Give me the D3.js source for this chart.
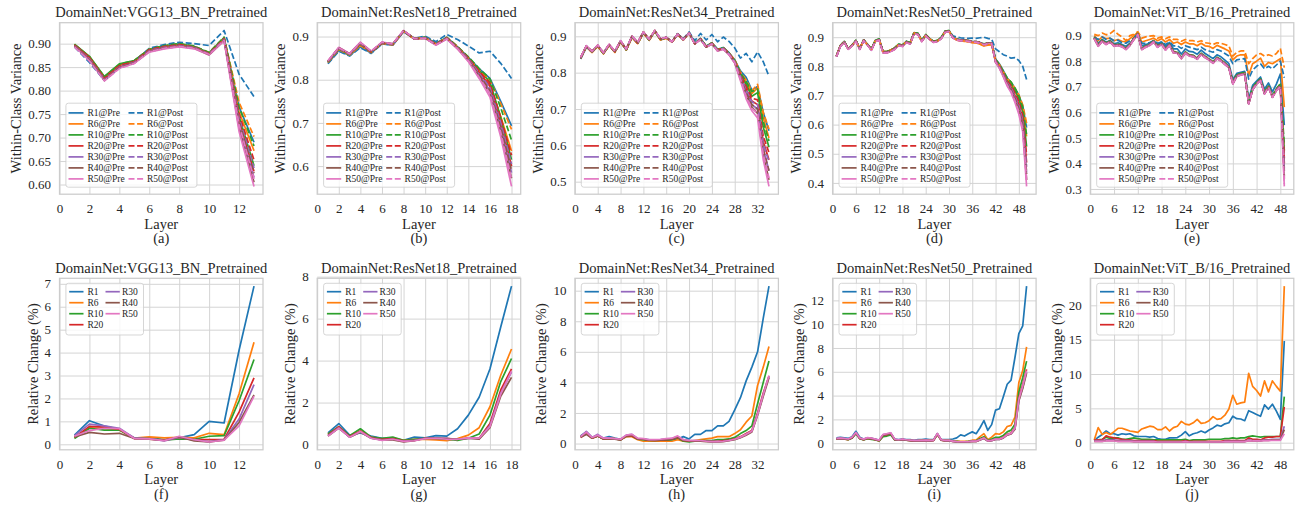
<!DOCTYPE html>
<html>
<head>
<meta charset="utf-8">
<script src="https://cdn.jsdelivr.net/npm/d3@7"></script>
<style>
  body { margin: 0; background: #ffffff; }
</style>
</head>
<body>
<svg id="fig" width="1302" height="507"></svg>
<script>
// ---- series labels and colours ----
const ratios = ["R1", "R6", "R10", "R20", "R30", "R40", "R50"];
const palette = ["#1f77b4", "#ff7f0e", "#2ca02c", "#d62728", "#9467bd", "#8c564b", "#e377c2"];

const titles = ["DomainNet:VGG13_BN_Pretrained", "DomainNet:ResNet18_Pretrained", "DomainNet:ResNet34_Pretrained",
                "DomainNet:ResNet50_Pretrained", "DomainNet:ViT_B/16_Pretrained"];
const lettersTop = ["(a)", "(b)", "(c)", "(d)", "(e)"];
const lettersBottom = ["(f)", "(g)", "(h)", "(i)", "(j)"];

// ---- tick values ----
const xTicksVgg = [0, 2, 4, 6, 8, 10, 12];
const xTicksR18 = [0, 2, 4, 6, 8, 10, 12, 14, 16, 18];
const xTicksR34 = [0, 4, 8, 12, 16, 20, 24, 28, 32];
const xTicks48 = [0, 6, 12, 18, 24, 30, 36, 42, 48];
const yTicksVggVar = [0.60, 0.65, 0.70, 0.75, 0.80, 0.85, 0.90];
const yTicksR18Var = [0.6, 0.7, 0.8, 0.9];
const yTicksR34Var = [0.5, 0.6, 0.7, 0.8, 0.9];
const yTicksR50Var = [0.4, 0.5, 0.6, 0.7, 0.8, 0.9];
const yTicksVitVar = [0.3, 0.4, 0.5, 0.6, 0.7, 0.8, 0.9];
const yTicksVggChg = [0, 1, 2, 3, 4, 5, 6, 7];
const yTicksR18Chg = [0, 2, 4, 6, 8];
const yTicksR34Chg = [0, 2, 4, 6, 8, 10];
const yTicksR50Chg = [0, 2, 4, 6, 8, 10, 12];
const yTicksVitChg = [0, 5, 10, 15, 20];

// ---- within-class variance per layer (rows: R1, R6, R10, R20, R30, R40, R50) ----
const vggPre = [
  [0.897, 0.870, 0.826, 0.852, 0.862, 0.888, 0.895, 0.899, 0.894, 0.880, 0.912, 0.765, 0.690],
  [0.898, 0.872, 0.828, 0.855, 0.863, 0.887, 0.894, 0.898, 0.893, 0.879, 0.911, 0.755, 0.672],
  [0.899, 0.873, 0.830, 0.857, 0.864, 0.888, 0.895, 0.899, 0.894, 0.880, 0.913, 0.745, 0.640],
  [0.898, 0.871, 0.827, 0.854, 0.862, 0.886, 0.893, 0.897, 0.892, 0.878, 0.910, 0.735, 0.628],
  [0.896, 0.868, 0.824, 0.851, 0.860, 0.884, 0.891, 0.895, 0.891, 0.877, 0.908, 0.727, 0.615],
  [0.895, 0.866, 0.822, 0.849, 0.859, 0.883, 0.890, 0.894, 0.890, 0.876, 0.907, 0.720, 0.605],
  [0.894, 0.864, 0.821, 0.848, 0.858, 0.882, 0.889, 0.893, 0.889, 0.876, 0.906, 0.713, 0.596]
];
const vggPost = [
  [0.893, 0.860, 0.822, 0.849, 0.862, 0.890, 0.898, 0.903, 0.900, 0.896, 0.928, 0.835, 0.787],
  [0.897, 0.871, 0.828, 0.854, 0.863, 0.888, 0.895, 0.899, 0.894, 0.881, 0.913, 0.775, 0.702],
  [0.898, 0.872, 0.829, 0.856, 0.864, 0.888, 0.896, 0.900, 0.895, 0.881, 0.914, 0.765, 0.682],
  [0.897, 0.870, 0.826, 0.853, 0.862, 0.887, 0.894, 0.898, 0.893, 0.879, 0.911, 0.750, 0.652],
  [0.895, 0.867, 0.823, 0.850, 0.860, 0.885, 0.892, 0.896, 0.892, 0.878, 0.909, 0.742, 0.635],
  [0.894, 0.865, 0.822, 0.849, 0.859, 0.884, 0.891, 0.895, 0.891, 0.877, 0.908, 0.736, 0.624],
  [0.893, 0.863, 0.821, 0.847, 0.858, 0.883, 0.890, 0.894, 0.890, 0.877, 0.907, 0.728, 0.612]
];

const r18Pre = [
  [0.838, 0.868, 0.856, 0.876, 0.862, 0.883, 0.880, 0.911, 0.894, 0.899, 0.884, 0.898, 0.876, 0.852, 0.826, 0.803, 0.750, 0.693],
  [0.840, 0.870, 0.857, 0.880, 0.863, 0.884, 0.881, 0.912, 0.894, 0.897, 0.882, 0.896, 0.873, 0.846, 0.815, 0.788, 0.715, 0.635],
  [0.841, 0.872, 0.858, 0.883, 0.864, 0.885, 0.882, 0.913, 0.895, 0.898, 0.883, 0.897, 0.875, 0.850, 0.822, 0.795, 0.712, 0.615],
  [0.842, 0.873, 0.859, 0.884, 0.864, 0.885, 0.882, 0.913, 0.895, 0.897, 0.882, 0.896, 0.874, 0.848, 0.817, 0.785, 0.700, 0.600],
  [0.843, 0.874, 0.860, 0.885, 0.865, 0.886, 0.882, 0.913, 0.895, 0.897, 0.881, 0.895, 0.873, 0.846, 0.812, 0.775, 0.690, 0.585],
  [0.843, 0.874, 0.860, 0.886, 0.865, 0.886, 0.883, 0.913, 0.895, 0.896, 0.881, 0.895, 0.872, 0.844, 0.808, 0.768, 0.680, 0.572],
  [0.844, 0.875, 0.861, 0.887, 0.866, 0.887, 0.883, 0.914, 0.895, 0.896, 0.880, 0.894, 0.871, 0.842, 0.803, 0.760, 0.668, 0.553]
];
const r18Post = [
  [0.837, 0.866, 0.855, 0.874, 0.861, 0.883, 0.881, 0.912, 0.896, 0.901, 0.888, 0.905, 0.893, 0.878, 0.862, 0.866, 0.838, 0.803],
  [0.840, 0.870, 0.857, 0.879, 0.863, 0.884, 0.881, 0.912, 0.895, 0.898, 0.883, 0.898, 0.877, 0.852, 0.823, 0.800, 0.745, 0.685],
  [0.841, 0.871, 0.858, 0.882, 0.864, 0.885, 0.882, 0.913, 0.895, 0.898, 0.884, 0.898, 0.877, 0.853, 0.826, 0.802, 0.735, 0.660],
  [0.842, 0.872, 0.859, 0.883, 0.864, 0.885, 0.882, 0.913, 0.895, 0.897, 0.883, 0.897, 0.875, 0.850, 0.820, 0.792, 0.712, 0.625],
  [0.842, 0.873, 0.859, 0.884, 0.865, 0.886, 0.882, 0.913, 0.895, 0.897, 0.882, 0.896, 0.874, 0.848, 0.815, 0.782, 0.700, 0.605],
  [0.843, 0.874, 0.860, 0.885, 0.865, 0.886, 0.883, 0.913, 0.895, 0.896, 0.882, 0.896, 0.873, 0.846, 0.811, 0.775, 0.690, 0.590],
  [0.844, 0.874, 0.860, 0.886, 0.866, 0.887, 0.883, 0.914, 0.895, 0.896, 0.881, 0.895, 0.872, 0.844, 0.806, 0.768, 0.678, 0.570]
];

const r34Pre = [
  [0.838, 0.870, 0.857, 0.873, 0.853, 0.876, 0.857, 0.885, 0.863, 0.898, 0.881, 0.910, 0.890, 0.914, 0.891, 0.896, 0.885, 0.906, 0.891, 0.910, 0.881, 0.894, 0.873, 0.882, 0.864, 0.869, 0.855, 0.835, 0.805, 0.787, 0.752, 0.762, 0.690, 0.640],
  [0.839, 0.871, 0.856, 0.872, 0.852, 0.875, 0.856, 0.884, 0.862, 0.897, 0.880, 0.909, 0.889, 0.913, 0.890, 0.895, 0.884, 0.905, 0.890, 0.909, 0.879, 0.892, 0.871, 0.880, 0.862, 0.867, 0.852, 0.833, 0.798, 0.775, 0.742, 0.758, 0.675, 0.620],
  [0.840, 0.872, 0.857, 0.874, 0.853, 0.876, 0.857, 0.886, 0.863, 0.899, 0.881, 0.910, 0.890, 0.914, 0.891, 0.896, 0.885, 0.906, 0.891, 0.910, 0.880, 0.893, 0.872, 0.881, 0.863, 0.868, 0.853, 0.832, 0.795, 0.768, 0.735, 0.745, 0.650, 0.595],
  [0.840, 0.872, 0.858, 0.874, 0.854, 0.876, 0.858, 0.886, 0.864, 0.899, 0.882, 0.911, 0.891, 0.915, 0.892, 0.897, 0.885, 0.906, 0.891, 0.910, 0.880, 0.893, 0.872, 0.881, 0.862, 0.867, 0.852, 0.830, 0.790, 0.755, 0.722, 0.712, 0.610, 0.560],
  [0.841, 0.873, 0.858, 0.875, 0.854, 0.877, 0.858, 0.887, 0.864, 0.900, 0.882, 0.911, 0.891, 0.915, 0.892, 0.897, 0.885, 0.906, 0.891, 0.910, 0.880, 0.892, 0.871, 0.880, 0.861, 0.866, 0.851, 0.828, 0.785, 0.745, 0.712, 0.700, 0.590, 0.530],
  [0.841, 0.873, 0.859, 0.875, 0.855, 0.877, 0.859, 0.887, 0.865, 0.900, 0.883, 0.912, 0.892, 0.916, 0.892, 0.897, 0.885, 0.906, 0.891, 0.909, 0.879, 0.892, 0.870, 0.879, 0.860, 0.865, 0.850, 0.827, 0.782, 0.738, 0.705, 0.688, 0.575, 0.505],
  [0.842, 0.874, 0.859, 0.876, 0.855, 0.878, 0.859, 0.888, 0.865, 0.901, 0.883, 0.912, 0.892, 0.916, 0.893, 0.897, 0.885, 0.906, 0.891, 0.909, 0.879, 0.891, 0.870, 0.879, 0.860, 0.864, 0.849, 0.826, 0.778, 0.728, 0.695, 0.675, 0.560, 0.487]
];
const r34Post = [
  [0.838, 0.870, 0.857, 0.873, 0.853, 0.876, 0.857, 0.885, 0.863, 0.898, 0.881, 0.910, 0.890, 0.914, 0.891, 0.897, 0.886, 0.907, 0.893, 0.912, 0.888, 0.908, 0.890, 0.905, 0.885, 0.898, 0.886, 0.868, 0.840, 0.853, 0.830, 0.857, 0.830, 0.790],
  [0.839, 0.871, 0.856, 0.872, 0.852, 0.875, 0.856, 0.884, 0.862, 0.897, 0.880, 0.909, 0.889, 0.913, 0.890, 0.895, 0.884, 0.905, 0.890, 0.909, 0.880, 0.893, 0.872, 0.881, 0.863, 0.868, 0.854, 0.835, 0.802, 0.780, 0.750, 0.768, 0.690, 0.645],
  [0.840, 0.872, 0.857, 0.874, 0.853, 0.876, 0.857, 0.886, 0.863, 0.899, 0.881, 0.910, 0.890, 0.914, 0.891, 0.896, 0.885, 0.906, 0.891, 0.910, 0.881, 0.894, 0.873, 0.882, 0.864, 0.869, 0.854, 0.834, 0.800, 0.775, 0.748, 0.755, 0.665, 0.612],
  [0.840, 0.872, 0.858, 0.874, 0.854, 0.876, 0.858, 0.886, 0.864, 0.899, 0.882, 0.911, 0.891, 0.915, 0.892, 0.897, 0.885, 0.906, 0.891, 0.910, 0.880, 0.893, 0.872, 0.881, 0.863, 0.868, 0.853, 0.832, 0.795, 0.762, 0.730, 0.725, 0.625, 0.580],
  [0.841, 0.873, 0.858, 0.875, 0.854, 0.877, 0.858, 0.887, 0.864, 0.900, 0.882, 0.911, 0.891, 0.915, 0.892, 0.897, 0.885, 0.906, 0.891, 0.910, 0.880, 0.892, 0.871, 0.880, 0.862, 0.867, 0.852, 0.830, 0.790, 0.752, 0.720, 0.712, 0.605, 0.555],
  [0.841, 0.873, 0.859, 0.875, 0.855, 0.877, 0.859, 0.887, 0.865, 0.900, 0.883, 0.912, 0.892, 0.916, 0.892, 0.897, 0.885, 0.906, 0.891, 0.909, 0.879, 0.892, 0.870, 0.879, 0.861, 0.866, 0.851, 0.829, 0.786, 0.745, 0.712, 0.700, 0.590, 0.530],
  [0.842, 0.874, 0.859, 0.876, 0.855, 0.878, 0.859, 0.888, 0.865, 0.901, 0.883, 0.912, 0.892, 0.916, 0.893, 0.897, 0.885, 0.906, 0.891, 0.909, 0.879, 0.891, 0.870, 0.879, 0.860, 0.865, 0.850, 0.828, 0.783, 0.735, 0.702, 0.688, 0.575, 0.510]
];

const r50Pre = [
  [0.835, 0.870, 0.885, 0.860, 0.872, 0.888, 0.860, 0.890, 0.875, 0.858, 0.888, 0.893, 0.850, 0.850, 0.855, 0.862, 0.875, 0.872, 0.885, 0.880, 0.915, 0.912, 0.888, 0.908, 0.895, 0.885, 0.888, 0.898, 0.920, 0.922, 0.900, 0.893, 0.890, 0.890, 0.888, 0.885, 0.885, 0.882, 0.876, 0.880, 0.880, 0.825, 0.808, 0.785, 0.760, 0.745, 0.725, 0.700, 0.665, 0.590],
  [0.836, 0.871, 0.884, 0.861, 0.871, 0.887, 0.861, 0.889, 0.874, 0.859, 0.887, 0.892, 0.851, 0.851, 0.856, 0.863, 0.874, 0.873, 0.884, 0.881, 0.914, 0.911, 0.887, 0.907, 0.894, 0.884, 0.887, 0.897, 0.919, 0.921, 0.898, 0.890, 0.887, 0.886, 0.884, 0.881, 0.880, 0.876, 0.870, 0.873, 0.874, 0.818, 0.803, 0.778, 0.752, 0.738, 0.715, 0.690, 0.650, 0.560],
  [0.836, 0.871, 0.886, 0.861, 0.873, 0.889, 0.861, 0.891, 0.876, 0.859, 0.889, 0.894, 0.851, 0.851, 0.856, 0.863, 0.876, 0.873, 0.886, 0.881, 0.916, 0.913, 0.889, 0.909, 0.896, 0.886, 0.889, 0.899, 0.921, 0.923, 0.900, 0.893, 0.890, 0.889, 0.887, 0.884, 0.884, 0.881, 0.876, 0.879, 0.879, 0.822, 0.805, 0.780, 0.755, 0.740, 0.718, 0.690, 0.645, 0.525],
  [0.835, 0.870, 0.885, 0.860, 0.872, 0.888, 0.860, 0.890, 0.875, 0.857, 0.887, 0.892, 0.849, 0.849, 0.854, 0.861, 0.874, 0.871, 0.884, 0.879, 0.914, 0.911, 0.887, 0.907, 0.894, 0.884, 0.887, 0.897, 0.919, 0.921, 0.899, 0.892, 0.889, 0.889, 0.887, 0.884, 0.884, 0.881, 0.875, 0.879, 0.879, 0.818, 0.800, 0.773, 0.745, 0.728, 0.700, 0.670, 0.620, 0.470],
  [0.834, 0.869, 0.884, 0.859, 0.871, 0.887, 0.859, 0.889, 0.874, 0.856, 0.886, 0.891, 0.848, 0.848, 0.853, 0.860, 0.873, 0.870, 0.883, 0.878, 0.913, 0.910, 0.886, 0.906, 0.893, 0.883, 0.886, 0.896, 0.918, 0.920, 0.898, 0.891, 0.888, 0.888, 0.886, 0.883, 0.883, 0.880, 0.874, 0.878, 0.878, 0.816, 0.797, 0.770, 0.740, 0.722, 0.692, 0.658, 0.605, 0.435],
  [0.834, 0.869, 0.884, 0.859, 0.871, 0.887, 0.859, 0.889, 0.874, 0.856, 0.886, 0.891, 0.847, 0.847, 0.852, 0.859, 0.872, 0.869, 0.882, 0.878, 0.913, 0.910, 0.886, 0.906, 0.893, 0.883, 0.886, 0.896, 0.918, 0.920, 0.898, 0.891, 0.888, 0.888, 0.886, 0.883, 0.883, 0.880, 0.874, 0.878, 0.878, 0.815, 0.795, 0.767, 0.736, 0.716, 0.684, 0.648, 0.592, 0.410],
  [0.833, 0.868, 0.883, 0.858, 0.870, 0.886, 0.858, 0.888, 0.873, 0.855, 0.885, 0.890, 0.846, 0.846, 0.851, 0.858, 0.871, 0.868, 0.881, 0.877, 0.912, 0.909, 0.885, 0.905, 0.892, 0.882, 0.885, 0.895, 0.917, 0.919, 0.897, 0.890, 0.887, 0.887, 0.885, 0.882, 0.882, 0.879, 0.873, 0.877, 0.877, 0.814, 0.793, 0.764, 0.732, 0.710, 0.676, 0.636, 0.575, 0.388]
];
const r50Post = [
  [0.835, 0.870, 0.885, 0.860, 0.872, 0.888, 0.860, 0.890, 0.875, 0.858, 0.888, 0.893, 0.850, 0.850, 0.855, 0.862, 0.875, 0.872, 0.885, 0.880, 0.915, 0.912, 0.888, 0.908, 0.895, 0.885, 0.888, 0.898, 0.920, 0.922, 0.905, 0.900, 0.898, 0.897, 0.896, 0.897, 0.896, 0.898, 0.900, 0.896, 0.893, 0.860, 0.850, 0.840, 0.835, 0.828, 0.830, 0.820, 0.800, 0.755],
  [0.836, 0.871, 0.884, 0.861, 0.871, 0.887, 0.861, 0.889, 0.874, 0.859, 0.887, 0.892, 0.851, 0.851, 0.856, 0.863, 0.874, 0.873, 0.884, 0.881, 0.914, 0.911, 0.887, 0.907, 0.894, 0.884, 0.887, 0.897, 0.919, 0.921, 0.899, 0.891, 0.888, 0.887, 0.885, 0.882, 0.881, 0.877, 0.871, 0.874, 0.875, 0.822, 0.806, 0.782, 0.758, 0.745, 0.725, 0.702, 0.668, 0.605],
  [0.836, 0.871, 0.886, 0.861, 0.873, 0.889, 0.861, 0.891, 0.876, 0.859, 0.889, 0.894, 0.851, 0.851, 0.856, 0.863, 0.876, 0.873, 0.886, 0.881, 0.916, 0.913, 0.889, 0.909, 0.896, 0.886, 0.889, 0.899, 0.921, 0.923, 0.901, 0.894, 0.891, 0.890, 0.888, 0.885, 0.885, 0.882, 0.877, 0.880, 0.880, 0.823, 0.807, 0.783, 0.760, 0.746, 0.725, 0.700, 0.660, 0.565],
  [0.835, 0.870, 0.885, 0.860, 0.872, 0.888, 0.860, 0.890, 0.875, 0.857, 0.887, 0.892, 0.849, 0.849, 0.854, 0.861, 0.874, 0.871, 0.884, 0.879, 0.914, 0.911, 0.887, 0.907, 0.894, 0.884, 0.887, 0.897, 0.919, 0.921, 0.900, 0.893, 0.890, 0.890, 0.888, 0.885, 0.885, 0.882, 0.876, 0.880, 0.880, 0.819, 0.802, 0.776, 0.750, 0.734, 0.708, 0.680, 0.632, 0.495],
  [0.834, 0.869, 0.884, 0.859, 0.871, 0.887, 0.859, 0.889, 0.874, 0.856, 0.886, 0.891, 0.848, 0.848, 0.853, 0.860, 0.873, 0.870, 0.883, 0.878, 0.913, 0.910, 0.886, 0.906, 0.893, 0.883, 0.886, 0.896, 0.918, 0.920, 0.899, 0.892, 0.889, 0.889, 0.887, 0.884, 0.884, 0.881, 0.875, 0.879, 0.879, 0.817, 0.799, 0.772, 0.744, 0.727, 0.698, 0.665, 0.615, 0.455],
  [0.834, 0.869, 0.884, 0.859, 0.871, 0.887, 0.859, 0.889, 0.874, 0.856, 0.886, 0.891, 0.847, 0.847, 0.852, 0.859, 0.872, 0.869, 0.882, 0.878, 0.913, 0.910, 0.886, 0.906, 0.893, 0.883, 0.886, 0.896, 0.918, 0.920, 0.899, 0.892, 0.889, 0.889, 0.887, 0.884, 0.884, 0.881, 0.875, 0.879, 0.879, 0.816, 0.797, 0.769, 0.740, 0.720, 0.690, 0.655, 0.600, 0.430],
  [0.833, 0.868, 0.883, 0.858, 0.870, 0.886, 0.858, 0.888, 0.873, 0.855, 0.885, 0.890, 0.846, 0.846, 0.851, 0.858, 0.871, 0.868, 0.881, 0.877, 0.912, 0.909, 0.885, 0.905, 0.892, 0.882, 0.885, 0.895, 0.917, 0.919, 0.898, 0.891, 0.888, 0.888, 0.886, 0.883, 0.883, 0.880, 0.874, 0.878, 0.878, 0.815, 0.795, 0.766, 0.736, 0.714, 0.682, 0.644, 0.585, 0.410]
];

const vitPre = [
  [0.895, 0.870, 0.885, 0.874, 0.881, 0.868, 0.872, 0.865, 0.858, 0.870, 0.886, 0.900, 0.860, 0.865, 0.870, 0.880, 0.865, 0.875, 0.858, 0.873, 0.848, 0.848, 0.828, 0.848, 0.838, 0.836, 0.827, 0.843, 0.830, 0.820, 0.810, 0.825, 0.817, 0.804, 0.790, 0.728, 0.752, 0.756, 0.760, 0.652, 0.705, 0.722, 0.738, 0.690, 0.715, 0.680, 0.710, 0.750, 0.550],
  [0.900, 0.880, 0.895, 0.888, 0.890, 0.880, 0.885, 0.878, 0.875, 0.888, 0.900, 0.913, 0.875, 0.880, 0.885, 0.890, 0.880, 0.888, 0.875, 0.885, 0.870, 0.875, 0.865, 0.875, 0.868, 0.868, 0.860, 0.870, 0.860, 0.858, 0.850, 0.862, 0.855, 0.848, 0.840, 0.805, 0.820, 0.825, 0.825, 0.745, 0.790, 0.800, 0.812, 0.780, 0.795, 0.790, 0.800, 0.810, 0.620],
  [0.892, 0.863, 0.882, 0.870, 0.879, 0.863, 0.866, 0.861, 0.850, 0.866, 0.889, 0.908, 0.850, 0.859, 0.866, 0.879, 0.859, 0.870, 0.848, 0.866, 0.837, 0.835, 0.814, 0.835, 0.825, 0.822, 0.812, 0.831, 0.818, 0.809, 0.796, 0.814, 0.805, 0.792, 0.779, 0.716, 0.746, 0.751, 0.755, 0.638, 0.693, 0.716, 0.729, 0.677, 0.703, 0.664, 0.690, 0.710, 0.450],
  [0.890, 0.861, 0.880, 0.868, 0.877, 0.861, 0.864, 0.859, 0.848, 0.864, 0.887, 0.906, 0.848, 0.857, 0.864, 0.877, 0.857, 0.868, 0.846, 0.864, 0.835, 0.833, 0.812, 0.833, 0.823, 0.820, 0.810, 0.829, 0.816, 0.807, 0.794, 0.812, 0.803, 0.790, 0.777, 0.713, 0.743, 0.748, 0.752, 0.635, 0.690, 0.713, 0.726, 0.674, 0.700, 0.661, 0.687, 0.704, 0.400],
  [0.889, 0.860, 0.879, 0.867, 0.876, 0.860, 0.863, 0.858, 0.847, 0.863, 0.886, 0.905, 0.847, 0.856, 0.863, 0.876, 0.856, 0.867, 0.845, 0.863, 0.834, 0.832, 0.811, 0.832, 0.822, 0.819, 0.809, 0.828, 0.815, 0.806, 0.793, 0.811, 0.802, 0.789, 0.776, 0.712, 0.742, 0.747, 0.751, 0.634, 0.689, 0.712, 0.725, 0.673, 0.699, 0.660, 0.686, 0.702, 0.370],
  [0.888, 0.859, 0.878, 0.866, 0.875, 0.859, 0.862, 0.857, 0.846, 0.862, 0.885, 0.904, 0.846, 0.855, 0.862, 0.875, 0.855, 0.866, 0.844, 0.862, 0.833, 0.831, 0.810, 0.831, 0.821, 0.818, 0.808, 0.827, 0.814, 0.805, 0.792, 0.810, 0.801, 0.788, 0.775, 0.711, 0.741, 0.746, 0.750, 0.633, 0.688, 0.711, 0.724, 0.672, 0.698, 0.659, 0.685, 0.700, 0.340],
  [0.887, 0.858, 0.877, 0.865, 0.874, 0.858, 0.861, 0.856, 0.845, 0.861, 0.884, 0.903, 0.845, 0.854, 0.861, 0.874, 0.854, 0.865, 0.843, 0.861, 0.832, 0.830, 0.809, 0.830, 0.820, 0.817, 0.807, 0.826, 0.813, 0.804, 0.791, 0.809, 0.800, 0.787, 0.774, 0.710, 0.740, 0.745, 0.749, 0.632, 0.687, 0.710, 0.723, 0.671, 0.697, 0.658, 0.684, 0.698, 0.310]
];
const vitPost = [
  [0.895, 0.885, 0.895, 0.885, 0.890, 0.880, 0.882, 0.872, 0.870, 0.880, 0.890, 0.910, 0.870, 0.870, 0.873, 0.880, 0.870, 0.875, 0.865, 0.875, 0.860, 0.860, 0.850, 0.860, 0.855, 0.850, 0.845, 0.855, 0.845, 0.840, 0.835, 0.845, 0.840, 0.830, 0.820, 0.790, 0.805, 0.808, 0.810, 0.730, 0.765, 0.780, 0.790, 0.770, 0.780, 0.770, 0.785, 0.800, 0.735],
  [0.905, 0.900, 0.910, 0.903, 0.908, 0.920, 0.905, 0.895, 0.880, 0.900, 0.905, 0.915, 0.890, 0.895, 0.898, 0.900, 0.890, 0.895, 0.888, 0.895, 0.885, 0.885, 0.878, 0.885, 0.880, 0.880, 0.875, 0.880, 0.872, 0.870, 0.865, 0.872, 0.870, 0.865, 0.860, 0.820, 0.835, 0.840, 0.840, 0.790, 0.810, 0.825, 0.830, 0.820, 0.825, 0.820, 0.830, 0.850, 0.775],
  [0.893, 0.864, 0.883, 0.871, 0.880, 0.864, 0.867, 0.862, 0.851, 0.867, 0.890, 0.909, 0.851, 0.860, 0.867, 0.880, 0.860, 0.871, 0.849, 0.867, 0.838, 0.836, 0.815, 0.836, 0.826, 0.823, 0.813, 0.832, 0.819, 0.810, 0.797, 0.815, 0.806, 0.793, 0.780, 0.717, 0.747, 0.752, 0.756, 0.640, 0.695, 0.718, 0.731, 0.679, 0.705, 0.666, 0.692, 0.712, 0.470],
  [0.891, 0.862, 0.881, 0.869, 0.878, 0.862, 0.865, 0.860, 0.849, 0.865, 0.888, 0.907, 0.849, 0.858, 0.865, 0.878, 0.858, 0.869, 0.847, 0.865, 0.836, 0.834, 0.813, 0.834, 0.824, 0.821, 0.811, 0.830, 0.817, 0.808, 0.795, 0.813, 0.804, 0.791, 0.778, 0.714, 0.744, 0.749, 0.753, 0.636, 0.691, 0.714, 0.727, 0.675, 0.701, 0.662, 0.688, 0.706, 0.420],
  [0.890, 0.861, 0.880, 0.868, 0.877, 0.861, 0.864, 0.859, 0.848, 0.864, 0.887, 0.906, 0.848, 0.857, 0.864, 0.877, 0.857, 0.868, 0.846, 0.864, 0.835, 0.833, 0.812, 0.833, 0.823, 0.820, 0.810, 0.829, 0.816, 0.807, 0.794, 0.812, 0.803, 0.790, 0.777, 0.713, 0.743, 0.748, 0.752, 0.635, 0.690, 0.713, 0.726, 0.674, 0.700, 0.661, 0.687, 0.704, 0.380],
  [0.889, 0.860, 0.879, 0.867, 0.876, 0.860, 0.863, 0.858, 0.847, 0.863, 0.886, 0.905, 0.847, 0.856, 0.863, 0.876, 0.856, 0.867, 0.845, 0.863, 0.834, 0.832, 0.811, 0.832, 0.822, 0.819, 0.809, 0.828, 0.815, 0.806, 0.793, 0.811, 0.802, 0.789, 0.776, 0.712, 0.742, 0.747, 0.751, 0.634, 0.689, 0.712, 0.725, 0.673, 0.699, 0.660, 0.686, 0.702, 0.350],
  [0.888, 0.859, 0.878, 0.866, 0.875, 0.859, 0.862, 0.857, 0.846, 0.862, 0.885, 0.904, 0.846, 0.855, 0.862, 0.875, 0.855, 0.866, 0.844, 0.862, 0.833, 0.831, 0.810, 0.831, 0.821, 0.818, 0.808, 0.827, 0.814, 0.805, 0.792, 0.810, 0.801, 0.788, 0.775, 0.711, 0.741, 0.746, 0.750, 0.633, 0.688, 0.711, 0.724, 0.672, 0.698, 0.659, 0.685, 0.700, 0.320]
];

// ---- relative change (%) per layer (rows: R1, R6, R10, R20, R30, R40, R50) ----
const vggChange = [
  [0.40, 1.03, 0.80, 0.65, 0.27, 0.28, 0.20, 0.28, 0.42, 1.00, 0.93, 4.10, 6.90],
  [0.30, 0.72, 0.68, 0.62, 0.27, 0.32, 0.28, 0.30, 0.28, 0.48, 0.42, 2.20, 4.45],
  [0.25, 0.70, 0.62, 0.62, 0.25, 0.25, 0.18, 0.23, 0.22, 0.35, 0.38, 1.90, 3.70],
  [0.30, 0.78, 0.75, 0.65, 0.25, 0.22, 0.18, 0.30, 0.20, 0.20, 0.22, 1.40, 2.90],
  [0.38, 0.88, 0.80, 0.70, 0.28, 0.25, 0.15, 0.30, 0.18, 0.12, 0.20, 1.10, 2.60],
  [0.32, 0.52, 0.45, 0.48, 0.25, 0.22, 0.17, 0.32, 0.15, 0.10, 0.18, 0.95, 2.15],
  [0.35, 0.60, 0.70, 0.68, 0.25, 0.24, 0.16, 0.35, 0.20, 0.10, 0.18, 0.80, 2.10]
];
const r18Change = [
  [0.55, 1.00, 0.45, 0.55, 0.40, 0.30, 0.30, 0.20, 0.35, 0.32, 0.42, 0.40, 0.75, 1.40, 2.25, 3.60, 5.60, 7.55],
  [0.50, 0.80, 0.40, 0.60, 0.35, 0.25, 0.30, 0.20, 0.25, 0.25, 0.22, 0.18, 0.28, 0.45, 0.80, 1.80, 3.30, 4.55],
  [0.50, 0.85, 0.42, 0.75, 0.35, 0.30, 0.35, 0.20, 0.25, 0.30, 0.30, 0.25, 0.20, 0.30, 0.50, 1.40, 3.00, 4.10],
  [0.45, 0.85, 0.38, 0.65, 0.32, 0.25, 0.28, 0.18, 0.20, 0.30, 0.30, 0.28, 0.25, 0.30, 0.30, 1.00, 2.60, 3.60],
  [0.42, 0.80, 0.35, 0.60, 0.30, 0.22, 0.25, 0.15, 0.20, 0.30, 0.30, 0.30, 0.25, 0.30, 0.28, 0.90, 2.45, 3.45],
  [0.40, 0.78, 0.35, 0.60, 0.30, 0.22, 0.22, 0.12, 0.18, 0.30, 0.28, 0.28, 0.25, 0.30, 0.25, 0.80, 2.30, 3.20],
  [0.40, 0.78, 0.35, 0.62, 0.30, 0.20, 0.25, 0.15, 0.18, 0.28, 0.30, 0.25, 0.25, 0.32, 0.30, 0.85, 2.40, 3.50]
];
const r34Change = [
  [0.50, 0.75, 0.40, 0.50, 0.35, 0.45, 0.35, 0.28, 0.45, 0.50, 0.30, 0.25, 0.22, 0.20, 0.22, 0.20, 0.25, 0.30, 0.45, 0.30, 0.60, 0.60, 0.85, 0.85, 1.15, 1.15, 1.45, 2.20, 3.00, 4.10, 5.00, 6.00, 8.20, 10.30],
  [0.45, 0.70, 0.35, 0.50, 0.30, 0.35, 0.32, 0.25, 0.45, 0.45, 0.25, 0.15, 0.15, 0.15, 0.15, 0.15, 0.15, 0.25, 0.15, 0.15, 0.20, 0.25, 0.30, 0.35, 0.45, 0.45, 0.45, 0.65, 0.90, 1.40, 1.80, 3.80, 5.00, 6.35],
  [0.45, 0.70, 0.38, 0.50, 0.30, 0.35, 0.30, 0.25, 0.50, 0.50, 0.28, 0.25, 0.20, 0.20, 0.22, 0.22, 0.25, 0.38, 0.15, 0.10, 0.15, 0.20, 0.20, 0.20, 0.25, 0.25, 0.30, 0.40, 0.65, 0.85, 1.15, 2.60, 4.00, 5.40],
  [0.40, 0.65, 0.35, 0.50, 0.30, 0.32, 0.30, 0.25, 0.50, 0.50, 0.30, 0.28, 0.22, 0.20, 0.22, 0.25, 0.28, 0.40, 0.20, 0.15, 0.15, 0.18, 0.15, 0.15, 0.15, 0.20, 0.22, 0.30, 0.45, 0.65, 0.85, 2.00, 3.30, 4.40],
  [0.45, 0.80, 0.40, 0.60, 0.35, 0.38, 0.30, 0.28, 0.55, 0.60, 0.32, 0.30, 0.25, 0.22, 0.25, 0.30, 0.32, 0.45, 0.25, 0.20, 0.20, 0.18, 0.15, 0.12, 0.12, 0.15, 0.20, 0.28, 0.40, 0.60, 0.80, 1.90, 3.20, 4.40],
  [0.42, 0.60, 0.35, 0.50, 0.30, 0.30, 0.28, 0.22, 0.50, 0.55, 0.30, 0.28, 0.22, 0.20, 0.22, 0.25, 0.28, 0.42, 0.22, 0.18, 0.18, 0.15, 0.12, 0.10, 0.10, 0.12, 0.18, 0.25, 0.38, 0.55, 0.75, 1.85, 3.10, 4.30],
  [0.45, 0.75, 0.40, 0.55, 0.35, 0.35, 0.32, 0.28, 0.55, 0.60, 0.35, 0.32, 0.25, 0.25, 0.28, 0.32, 0.35, 0.50, 0.25, 0.20, 0.20, 0.20, 0.15, 0.12, 0.12, 0.15, 0.20, 0.28, 0.42, 0.60, 0.80, 1.90, 3.20, 4.45]
];
const r50Change = [
  [0.45, 0.50, 0.45, 0.40, 0.55, 1.00, 0.50, 0.35, 0.45, 0.40, 0.35, 0.25, 0.65, 0.70, 0.80, 0.35, 0.30, 0.35, 0.30, 0.30, 0.25, 0.30, 0.30, 0.35, 0.30, 0.30, 0.80, 0.30, 0.30, 0.30, 0.35, 0.45, 0.70, 0.60, 0.80, 0.95, 0.80, 1.30, 1.90, 1.08, 1.56, 2.78, 2.90, 3.90, 4.95, 5.30, 7.20, 9.20, 9.85, 13.20],
  [0.35, 0.40, 0.35, 0.30, 0.45, 0.85, 0.40, 0.30, 0.40, 0.35, 0.30, 0.20, 0.60, 0.65, 0.75, 0.30, 0.25, 0.30, 0.25, 0.25, 0.20, 0.22, 0.25, 0.28, 0.25, 0.25, 0.75, 0.28, 0.25, 0.25, 0.20, 0.18, 0.15, 0.15, 0.18, 0.25, 0.25, 0.55, 0.80, 0.30, 0.50, 0.80, 0.75, 0.95, 1.40, 1.50, 2.20, 5.10, 6.10, 8.10],
  [0.35, 0.38, 0.35, 0.30, 0.42, 0.80, 0.38, 0.28, 0.38, 0.32, 0.28, 0.20, 0.55, 0.60, 0.70, 0.28, 0.25, 0.28, 0.25, 0.22, 0.20, 0.22, 0.22, 0.25, 0.22, 0.25, 0.72, 0.25, 0.22, 0.22, 0.18, 0.15, 0.12, 0.12, 0.15, 0.20, 0.20, 0.40, 0.55, 0.25, 0.35, 0.50, 0.50, 0.65, 0.95, 1.10, 1.60, 4.30, 5.50, 6.90],
  [0.35, 0.38, 0.35, 0.32, 0.45, 0.85, 0.40, 0.30, 0.42, 0.38, 0.30, 0.22, 0.65, 0.72, 0.80, 0.30, 0.25, 0.30, 0.25, 0.22, 0.20, 0.20, 0.20, 0.22, 0.20, 0.22, 0.75, 0.25, 0.20, 0.20, 0.15, 0.12, 0.10, 0.10, 0.12, 0.15, 0.15, 0.30, 0.45, 0.20, 0.25, 0.35, 0.35, 0.50, 0.75, 0.85, 1.30, 3.80, 4.90, 6.20],
  [0.38, 0.40, 0.38, 0.33, 0.48, 0.88, 0.42, 0.32, 0.45, 0.40, 0.32, 0.24, 0.70, 0.76, 0.85, 0.32, 0.27, 0.32, 0.27, 0.24, 0.22, 0.22, 0.22, 0.24, 0.22, 0.24, 0.80, 0.27, 0.22, 0.22, 0.15, 0.12, 0.10, 0.10, 0.12, 0.15, 0.15, 0.28, 0.42, 0.18, 0.22, 0.32, 0.32, 0.45, 0.70, 0.80, 1.20, 3.60, 4.70, 6.00],
  [0.36, 0.39, 0.36, 0.32, 0.46, 0.86, 0.41, 0.31, 0.43, 0.39, 0.31, 0.23, 0.68, 0.74, 0.82, 0.31, 0.26, 0.31, 0.26, 0.23, 0.21, 0.21, 0.21, 0.23, 0.21, 0.23, 0.78, 0.26, 0.21, 0.21, 0.15, 0.12, 0.10, 0.10, 0.12, 0.15, 0.15, 0.28, 0.40, 0.18, 0.22, 0.32, 0.32, 0.45, 0.68, 0.78, 1.18, 3.55, 4.60, 5.90],
  [0.40, 0.42, 0.40, 0.35, 0.50, 0.90, 0.44, 0.34, 0.47, 0.42, 0.34, 0.26, 0.74, 0.80, 0.88, 0.34, 0.29, 0.34, 0.29, 0.26, 0.24, 0.24, 0.24, 0.26, 0.24, 0.26, 0.82, 0.29, 0.24, 0.24, 0.17, 0.14, 0.12, 0.12, 0.14, 0.17, 0.17, 0.30, 0.44, 0.20, 0.24, 0.34, 0.34, 0.48, 0.72, 0.82, 1.25, 3.70, 4.80, 6.10]
];
const vitChange = [
  [0.3, 0.8, 1.2, 1.7, 1.3, 1.3, 1.1, 1.3, 1.2, 1.3, 1.0, 0.9, 0.9, 0.9, 0.8, 0.9, 0.6, 0.5, 0.5, 0.7, 0.7, 0.75, 1.1, 1.6, 1.0, 1.3, 1.45, 1.7, 1.45, 1.85, 2.15, 2.55, 2.4, 2.75, 2.9, 3.85, 3.5, 3.45, 3.2, 4.65, 4.4, 4.1, 3.85, 5.5, 4.9, 5.6, 4.6, 3.4, 14.8],
  [0.4, 2.2, 1.2, 1.5, 1.2, 1.6, 2.1, 2.1, 1.9, 1.7, 1.6, 1.5, 2.0, 2.2, 2.4, 2.3, 1.9, 1.9, 2.3, 1.7, 2.2, 2.4, 3.1, 2.7, 2.6, 2.9, 3.4, 2.8, 2.9, 3.2, 3.8, 3.4, 3.5, 4.0, 4.9, 6.9, 5.6, 5.8, 5.9, 10.1, 8.2, 7.6, 6.8, 9.0, 7.4, 9.0, 8.2, 7.5, 22.8],
  [0.3, 0.4, 0.5, 0.8, 0.6, 0.7, 0.7, 0.5, 0.5, 0.6, 0.7, 0.6, 0.5, 0.5, 0.5, 0.4, 0.4, 0.4, 0.4, 0.4, 0.4, 0.4, 0.4, 0.5, 0.3, 0.4, 0.4, 0.4, 0.4, 0.5, 0.5, 0.5, 0.5, 0.6, 0.6, 0.7, 0.6, 0.7, 0.7, 0.9, 1.0, 0.9, 0.8, 0.9, 0.9, 0.9, 0.9, 0.9, 6.7],
  [0.4, 0.4, 0.4, 1.0, 0.8, 0.7, 0.6, 0.5, 0.4, 0.4, 0.3, 0.3, 0.3, 0.3, 0.3, 0.3, 0.2, 0.2, 0.2, 0.2, 0.2, 0.2, 0.2, 0.3, 0.2, 0.2, 0.2, 0.2, 0.2, 0.2, 0.2, 0.2, 0.2, 0.3, 0.3, 0.3, 0.3, 0.3, 0.3, 0.7, 0.5, 0.5, 0.4, 0.7, 0.8, 0.8, 0.9, 0.9, 5.2],
  [0.3, 0.3, 0.3, 0.4, 0.4, 0.4, 0.3, 0.3, 0.3, 0.3, 0.2, 0.2, 0.2, 0.2, 0.2, 0.2, 0.1, 0.1, 0.1, 0.1, 0.1, 0.1, 0.1, 0.2, 0.1, 0.1, 0.1, 0.1, 0.1, 0.1, 0.1, 0.1, 0.1, 0.2, 0.2, 0.2, 0.2, 0.2, 0.2, 0.4, 0.3, 0.3, 0.3, 0.4, 0.4, 0.5, 0.5, 0.5, 2.4],
  [0.2, 0.2, 0.2, 0.3, 0.3, 0.3, 0.2, 0.2, 0.2, 0.2, 0.15, 0.15, 0.15, 0.15, 0.15, 0.15, 0.1, 0.1, 0.1, 0.1, 0.1, 0.1, 0.1, 0.15, 0.1, 0.1, 0.1, 0.1, 0.1, 0.1, 0.1, 0.1, 0.1, 0.15, 0.15, 0.15, 0.15, 0.15, 0.15, 0.3, 0.25, 0.25, 0.25, 0.35, 0.35, 0.4, 0.4, 0.4, 1.9],
  [0.2, 0.2, 0.2, 0.25, 0.25, 0.25, 0.2, 0.2, 0.2, 0.2, 0.15, 0.15, 0.15, 0.15, 0.15, 0.15, 0.1, 0.1, 0.1, 0.1, 0.1, 0.1, 0.1, 0.15, 0.1, 0.1, 0.1, 0.1, 0.1, 0.1, 0.1, 0.1, 0.1, 0.15, 0.15, 0.15, 0.15, 0.15, 0.15, 0.3, 0.25, 0.25, 0.25, 0.3, 0.3, 0.35, 0.35, 0.35, 1.3]
];

// ---- panel table ----
const panels = [
  { row: 0, col: 0, title: titles[0], letter: lettersTop[0], pre: vggPre, post: vggPost, xTicks: xTicksVgg, yTicks: yTicksVggVar, yFmt: ".2f", ylabel: "Within-Class Variance" },
  { row: 0, col: 1, title: titles[1], letter: lettersTop[1], pre: r18Pre, post: r18Post, xTicks: xTicksR18, yTicks: yTicksR18Var, yFmt: ".1f", ylabel: "Within-Class Variance" },
  { row: 0, col: 2, title: titles[2], letter: lettersTop[2], pre: r34Pre, post: r34Post, xTicks: xTicksR34, yTicks: yTicksR34Var, yFmt: ".1f", ylabel: "Within-Class Variance" },
  { row: 0, col: 3, title: titles[3], letter: lettersTop[3], pre: r50Pre, post: r50Post, xTicks: xTicks48, yTicks: yTicksR50Var, yFmt: ".1f", ylabel: "Within-Class Variance" },
  { row: 0, col: 4, title: titles[4], letter: lettersTop[4], pre: vitPre, post: vitPost, xTicks: xTicks48, yTicks: yTicksVitVar, yFmt: ".1f", ylabel: "Within-Class Variance" },
  { row: 1, col: 0, title: titles[0], letter: lettersBottom[0], change: vggChange, xTicks: xTicksVgg, yTicks: yTicksVggChg, yFmt: "d", ylabel: "Relative Change (%)" },
  { row: 1, col: 1, title: titles[1], letter: lettersBottom[1], change: r18Change, xTicks: xTicksR18, yTicks: yTicksR18Chg, yFmt: "d", ylabel: "Relative Change (%)" },
  { row: 1, col: 2, title: titles[2], letter: lettersBottom[2], change: r34Change, xTicks: xTicksR34, yTicks: yTicksR34Chg, yFmt: "d", ylabel: "Relative Change (%)" },
  { row: 1, col: 3, title: titles[3], letter: lettersBottom[3], change: r50Change, xTicks: xTicks48, yTicks: yTicksR50Chg, yFmt: "d", ylabel: "Relative Change (%)" },
  { row: 1, col: 4, title: titles[4], letter: lettersBottom[4], change: vitChange, xTicks: xTicks48, yTicks: yTicksVitChg, yFmt: "d", ylabel: "Relative Change (%)" }
];

// ---- layout ----
const FONT = "'Liberation Serif', Tinos, 'Nimbus Roman', 'Times New Roman', Times, 'DejaVu Serif', serif";
const svg = d3.select("#fig");
const W = 203.5, H = 171.5;
const rowTop = [22.7, 278.3];
const colLeft = c => 59.5 + c * 257.7;
const gridColor = "#d4d4d4", spineColor = "#cccccc";
const LW = 1.7;
const DASH = "6,2.6";

function label(sel, size) {
  return sel.style("font-family", FONT).style("font-size", size + "px").style("fill", "#262626");
}

panels.forEach(p => {
  const g = svg.append("g").attr("transform", `translate(${colLeft(p.col)},${rowTop[p.row]})`);

  let series;
  if (p.change) {
    series = p.change.map((v, i) => ({ v, color: palette[i], dash: false, label: ratios[i] }));
  } else {
    series = [
      ...p.pre.map((v, i) => ({ v, color: palette[i], dash: false, label: ratios[i] + "@Pre" })),
      ...p.post.map((v, i) => ({ v, color: palette[i], dash: true, label: ratios[i] + "@Post" }))
    ];
  }

  const n = d3.max(series, s => s.v.length);
  const x = d3.scaleLinear().domain([0, n + 0.05 * (n - 1)]).range([0, W]);
  const [lo, hi] = d3.extent(series.flatMap(s => s.v));
  const pad = (hi - lo) * 0.05;
  const y = d3.scaleLinear().domain([lo - pad, hi + pad]).range([H, 0]);

  // grid
  const gx = g.append("g").attr("transform", `translate(0,${H})`)
    .call(d3.axisBottom(x).tickValues(p.xTicks).tickSize(-H).tickFormat(""));
  const gy = g.append("g")
    .call(d3.axisLeft(y).tickValues(p.yTicks).tickSize(-W).tickFormat(""));
  [gx, gy].forEach(a => {
    a.select(".domain").remove();
    a.selectAll("line").attr("stroke", gridColor).attr("stroke-width", 1);
  });

  // tick labels
  const ax = g.append("g").attr("transform", `translate(0,${H})`)
    .call(d3.axisBottom(x).tickValues(p.xTicks).tickSize(0).tickPadding(9.8).tickFormat(d3.format("d")));
  const ay = g.append("g")
    .call(d3.axisLeft(y).tickValues(p.yTicks).tickSize(0).tickPadding(8.5).tickFormat(d3.format(p.yFmt)));
  [ax, ay].forEach(a => {
    a.select(".domain").remove();
    label(a.selectAll("text"), 13);
  });

  // lines
  const line = d3.line().x((d, i) => x(i + 1)).y(d => y(d));
  g.append("g").selectAll("path").data(series).join("path")
    .attr("d", s => line(s.v))
    .attr("fill", "none")
    .attr("stroke", s => s.color)
    .attr("stroke-width", LW)
    .attr("stroke-linejoin", "round")
    .attr("stroke-dasharray", s => s.dash ? DASH : null);

  // frame
  g.append("rect").attr("width", W).attr("height", H)
    .attr("fill", "none").attr("stroke", spineColor).attr("stroke-width", 1.25);

  // title
  label(g.append("text").attr("x", W / 2).attr("y", -5.5).attr("text-anchor", "middle"), 14.5).text(p.title);

  // x label and panel letter
  label(g.append("text").attr("x", W / 2).attr("y", H + 34.5).attr("text-anchor", "middle"), 14.5).text("Layer");
  label(g.append("text").attr("x", W / 2).attr("y", H + 49).attr("text-anchor", "middle"), 14.5).text(p.letter);

  // y label, placed clear of the tick labels
  let maxW = 0;
  ay.selectAll("text").each(function () { maxW = Math.max(maxW, this.getComputedTextLength()); });
  const lx = -(8.5 + maxW + 7);
  label(g.append("text").attr("transform", `translate(${lx},${H / 2}) rotate(-90)`)
    .attr("text-anchor", "middle"), 14.5).text(p.ylabel);

  // legend
  if (p.change) {
    const lg = g.append("g").attr("transform", "translate(6.4,5)");
    lg.append("rect").attr("width", 77.6).attr("height", 51.7).attr("rx", 2.5)
      .attr("fill", "#ffffff").attr("fill-opacity", 0.8).attr("stroke", spineColor).attr("stroke-width", 0.8);
    series.forEach((s, i) => {
      const col = i < 4 ? 0 : 1, row = i < 4 ? i : i - 4;
      const hx = col === 0 ? 3.3 : 39.6, tx = col === 0 ? 21.6 : 56;
      const cy = 8.4 + row * 11;
      lg.append("line").attr("x1", hx).attr("x2", hx + 14.3).attr("y1", cy).attr("y2", cy)
        .attr("stroke", s.color).attr("stroke-width", LW);
      label(lg.append("text").attr("x", tx).attr("y", cy).attr("dy", "0.35em"), 9.5).text(s.label);
    });
  } else {
    const bw = 131, bh = 84;
    const lg = g.append("g").attr("transform", `translate(6.4,${H - 7 - bh})`);
    lg.append("rect").attr("width", bw).attr("height", bh).attr("rx", 2.5)
      .attr("fill", "#ffffff").attr("fill-opacity", 0.8).attr("stroke", spineColor).attr("stroke-width", 0.8);
    series.forEach((s, i) => {
      const col = i < 7 ? 0 : 1, row = i % 7;
      const hx = col === 0 ? 2.6 : 62.6, tx = col === 0 ? 21.6 : 81;
      const cy = 9.7 + row * 11;
      lg.append("line").attr("x1", hx).attr("x2", hx + 15).attr("y1", cy).attr("y2", cy)
        .attr("stroke", s.color).attr("stroke-width", LW)
        .attr("stroke-dasharray", s.dash ? DASH : null);
      label(lg.append("text").attr("x", tx).attr("y", cy).attr("dy", "0.35em"), 9.5).text(s.label);
    });
  }
});
</script>
</body>
</html>
